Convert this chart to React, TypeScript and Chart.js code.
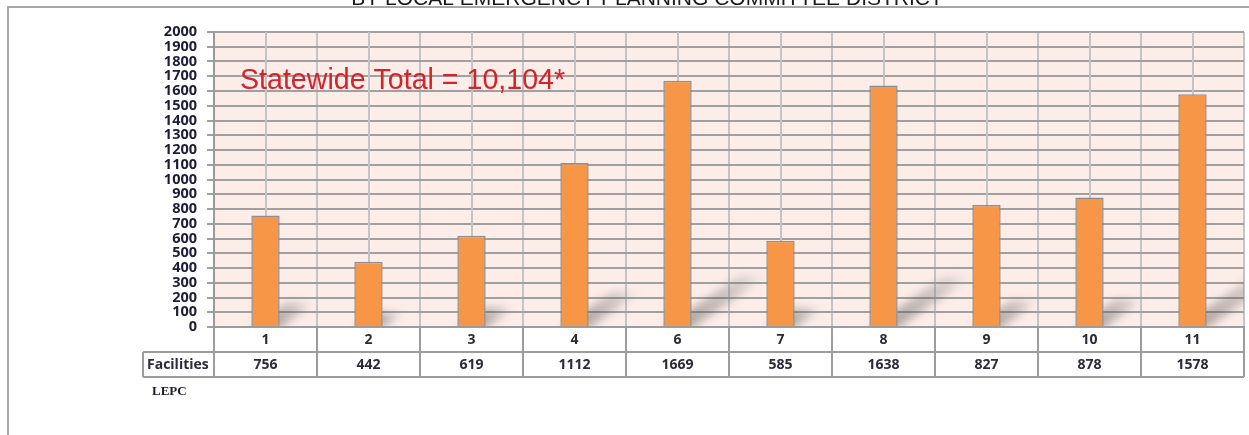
import { useEffect, useRef } from "react";
import { Chart, registerables } from "chart.js";

Chart.register(...registerables);

const chartTitle = "BY LOCAL EMERGENCY PLANNING COMMITTEE DISTRICT";
const annotation = "Statewide Total = 10,104*";
const rowLabel = "Facilities";
const axisTitle = "LEPC";
const categories = ["1", "2", "3", "4", "6", "7", "8", "9", "10", "11"];
const facilities = [756, 442, 619, 1112, 1669, 585, 1638, 827, 878, 1578];
const yMin = 0;
const yMax = 2000;
const yStep = 100;

const TEXT_FONT = '"Open Sans", "DejaVu Sans", sans-serif';

const decorPlugin = {
  id: "decor",
  beforeDraw(chart: any) {
    const { ctx, chartArea: a } = chart;
    ctx.save();
    ctx.fillStyle = "#ffffff";
    ctx.fillRect(0, 0, chart.width, chart.height);
    ctx.fillStyle = "#FCEDE8";
    ctx.fillRect(a.left, a.top, a.right - a.left, a.bottom - a.top);
    ctx.restore();
  },
  beforeDatasetsDraw(chart: any) {
    const { ctx, chartArea: a } = chart;
    const xs = chart.scales.x;
    ctx.save();
    // center vertical grid lines
    ctx.strokeStyle = "#c4c4c4";
    ctx.lineWidth = 2;
    for (let i = 0; i < categories.length; i++) {
      const px = Math.round(xs.getPixelForValue(i));
      ctx.beginPath();
      ctx.moveTo(px, a.top);
      ctx.lineTo(px, a.bottom);
      ctx.stroke();
    }
    // cast shadows
    ctx.beginPath();
    ctx.rect(a.left, a.top, a.right - a.left, a.bottom - a.top);
    ctx.clip();
    const meta = chart.getDatasetMeta(0);
    meta.data.forEach((bar: any) => {
      const { x, y, base, width } = bar.getProps(["x", "y", "base", "width"], true);
      const h = base - y;
      const x0 = x - width / 2;
      const x1 = x + width / 2;
      const dx = h * 0.32;
      const dy = h * 0.21;
      const g = ctx.createLinearGradient(x1, base, x1 + dx, base - dy);
      g.addColorStop(0, "rgba(70,70,70,0.42)");
      g.addColorStop(0.6, "rgba(100,100,100,0.28)");
      g.addColorStop(1, "rgba(130,130,130,0)");
      ctx.save();
      ctx.filter = "blur(4px)";
      ctx.fillStyle = g;
      ctx.beginPath();
      ctx.moveTo(x0, base + 2);
      ctx.lineTo(x1, base + 2);
      ctx.lineTo(x1 + dx, base - dy);
      ctx.lineTo(x0 + dx, base - dy);
      ctx.closePath();
      ctx.fill();
      ctx.restore();
    });
    ctx.restore();
  },
  afterDraw(chart: any) {
    const { ctx, chartArea: a } = chart;
    const xs = chart.scales.x;
    ctx.save();
    // outer frame
    ctx.strokeStyle = "#a8a8a8";
    ctx.lineWidth = 2;
    ctx.strokeRect(8, 7, chart.width + 20, chart.height + 20);
    // title (cut at top)
    ctx.fillStyle = "#1a1a1a";
    ctx.font = '21px "Liberation Sans", Arial, sans-serif';
    ctx.textAlign = "center";
    ctx.textBaseline = "alphabetic";
    ctx.fillText(chartTitle, 647, 5);
    // annotation
    ctx.fillStyle = "#D4232B";
    ctx.font = '28.6px "Liberation Sans", Arial, sans-serif';
    ctx.textAlign = "left";
    ctx.fillText(annotation, 240, 89);

    // data table
    const n = categories.length;
    const half = (xs.getPixelForValue(1) - xs.getPixelForValue(0)) / 2;
    const rowH = 25;
    const r0 = a.bottom;
    const r1 = r0 + rowH;
    const r2 = r1 + rowH;
    const labelLeft = 143;
    ctx.strokeStyle = "#9c9c9c";
    ctx.lineWidth = 2;
    ctx.beginPath();
    ctx.moveTo(a.left, r0);
    ctx.lineTo(a.right, r0);
    ctx.moveTo(labelLeft, r1);
    ctx.lineTo(a.right, r1);
    ctx.moveTo(labelLeft, r2);
    ctx.lineTo(a.right, r2);
    ctx.moveTo(labelLeft, r1);
    ctx.lineTo(labelLeft, r2);
    for (let i = 0; i <= n; i++) {
      const px = Math.round(i < n ? xs.getPixelForValue(i) - half : xs.getPixelForValue(n - 1) + half);
      ctx.moveTo(px, r0);
      ctx.lineTo(px, r2);
    }
    ctx.stroke();

    ctx.fillStyle = "#2a2a3a";
    ctx.font = `bold 14px ${TEXT_FONT}`;
    ctx.textBaseline = "middle";
    ctx.textAlign = "center";
    for (let i = 0; i < n; i++) {
      const px = xs.getPixelForValue(i);
      ctx.fillText(categories[i], px, r0 + rowH / 2 + 1);
      ctx.fillText(String(facilities[i]), px, r1 + rowH / 2 + 1);
    }
    ctx.textAlign = "left";
    ctx.fillText(rowLabel, labelLeft + 4, r1 + rowH / 2 + 1);

    ctx.font = 'bold 13px "Liberation Serif", "DejaVu Serif", serif';
    ctx.fillStyle = "#1a1a2a";
    ctx.fillText(axisTitle, 152, r2 + 15);
    ctx.restore();
  },
};

export default function App() {
  const ref = useRef<HTMLCanvasElement | null>(null);
  useEffect(() => {
    if (!ref.current) return;
    const chart = new Chart(ref.current, {
      type: "bar",
      data: {
        labels: categories,
        datasets: [
          {
            label: rowLabel,
            data: facilities,
            backgroundColor: "#F79646",
            borderColor: "#8e8e8e",
            borderWidth: 1.5,
            categoryPercentage: 1,
            barPercentage: 0.275,
          },
        ],
      },
      options: {
        responsive: false,
        animation: false,
        devicePixelRatio: 1,
        layout: { padding: { left: 0, top: 32, right: 5, bottom: 108 } },
        plugins: { legend: { display: false }, tooltip: { enabled: false }, title: { display: false } },
        scales: {
          x: {
            offset: true,
            grid: { display: true, offset: true, color: "#c4c4c4", lineWidth: 2, drawTicks: false },
            border: { display: true, color: "#9c9c9c", width: 2 },
            ticks: { display: false },
            afterFit: (s: any) => {
              s.height = 0;
            },
          },
          y: {
            min: yMin,
            max: yMax,
            grid: { color: "#a0a0a0", lineWidth: 2, tickLength: 7, drawTicks: true },
            border: { display: true, color: "#9a9a9a", width: 2 },
            ticks: {
              stepSize: yStep,
              autoSkip: false,
              padding: 10,
              color: "#1c1c38",
              font: { family: TEXT_FONT, size: 14.5, weight: "bold", lineHeight: 1 },
              callback: (v: any) => String(v),
            },
            afterFit: (s: any) => {
              s.width = 214;
            },
          },
        },
      },
      plugins: [decorPlugin],
    });
    return () => chart.destroy();
  }, []);
  return (
    <div style={{ position: "absolute", left: 0, top: 0, width: 1249, height: 435 }}>
      <canvas ref={ref} width={1249} height={435} style={{ display: "block" }} />
    </div>
  );
}
